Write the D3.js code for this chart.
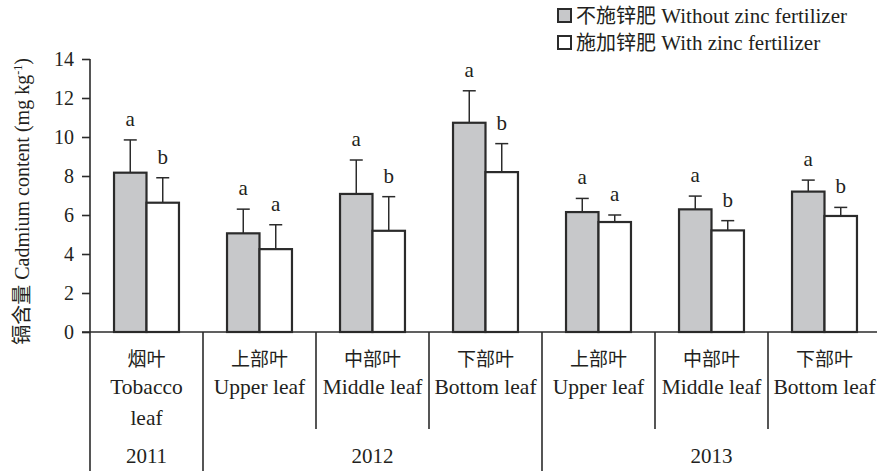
<!DOCTYPE html>
<html>
<head>
<meta charset="utf-8">
<script src="https://cdn.jsdelivr.net/npm/d3@7/dist/d3.min.js"></script>
<style>
  html, body { margin: 0; padding: 0; background: #fff; }
  svg { display: block; }
  text { font-family: "Liberation Serif", "Noto Sans CJK SC", serif; fill: #231f20; }
</style>
</head>
<body>
<svg id="chart" width="877" height="471"></svg>
<script>
// Leaf position labels (Chinese / English) and the year each belongs to
const categoriesZh = ["烟叶", "上部叶", "中部叶", "下部叶", "上部叶", "中部叶", "下部叶"];
const categoriesEn = ["Tobacco\nleaf", "Upper leaf", "Middle leaf", "Bottom leaf", "Upper leaf", "Middle leaf", "Bottom leaf"];
const years = ["2011", "2012", "2013"];
const yearSpans = [1, 3, 3];

// Cadmium content (mg kg-1): means and standard errors
const withoutZinc = [8.17, 5.06, 7.08, 10.73, 6.15, 6.29, 7.20];
const withoutZincErr = [1.68, 1.24, 1.74, 1.64, 0.70, 0.68, 0.59];
const withZinc = [6.63, 4.25, 5.19, 8.20, 5.64, 5.21, 5.95];
const withZincErr = [1.28, 1.25, 1.75, 1.46, 0.36, 0.50, 0.44];

// Significance letters
const lettersWithout = ["a", "a", "a", "a", "a", "a", "a"];
const lettersWith = ["b", "a", "b", "b", "a", "b", "b"];

const seriesNames = ["不施锌肥 Without zinc fertilizer", "施加锌肥 With zinc fertilizer"];
const yTicks = [0, 2, 4, 6, 8, 10, 12, 14];

const svg = d3.select("#chart");
const ink = "#2b2b2b";
const grayFill = "#c7c8ca";

const plot = { left: 90, right: 881, top: 59, bottom: 332 };

const x = d3.scaleBand()
  .domain(d3.range(categoriesZh.length))
  .range([plot.left, plot.right])
  .padding(0);

const xInner = d3.scaleBand()
  .domain([0, 1])
  .range([0, x.bandwidth()])
  .paddingInner(0)
  .paddingOuter(0.74);

const y = d3.scaleLinear().domain([0, 14]).range([plot.bottom, plot.top]);

// Y axis
const yAxis = d3.axisLeft(y).tickValues(yTicks).tickSize(8).tickPadding(8).tickSizeOuter(0);
const yG = svg.append("g").attr("transform", `translate(${plot.left},0)`).call(yAxis);
yG.attr("font-family", null);
yG.select(".domain").remove();
yG.selectAll(".tick line").attr("stroke", ink).attr("stroke-width", 1.6);
yG.selectAll(".tick text").attr("font-size", 20).attr("fill", "#231f20");

// Y axis line, continuing down as the left border of the category table
svg.append("line")
  .attr("x1", plot.left).attr("x2", plot.left)
  .attr("y1", y(14)).attr("y2", 471)
  .attr("stroke", ink).attr("stroke-width", 1.6);

// Y axis title
svg.append("text")
  .attr("transform", `translate(29,${(plot.top + plot.bottom) / 2 + 6}) rotate(-90)`)
  .attr("text-anchor", "middle")
  .attr("font-size", 20)
  .html('镉含量 Cadmium content (mg kg<tspan dy="-7" font-size="12">-1</tspan><tspan dy="7">)</tspan>');

// Bars
const series = [
  { values: withoutZinc, errs: withoutZincErr, letters: lettersWithout, fill: grayFill },
  { values: withZinc, errs: withZincErr, letters: lettersWith, fill: "#ffffff" }
];

series.forEach((s, si) => {
  const g = svg.append("g");
  const data = s.values.map((v, i) => ({ i, v, e: s.errs[i], l: s.letters[i] }));
  const bx = d => x(d.i) + xInner(si);
  const cx = d => bx(d) + xInner.bandwidth() / 2;

  // error bars (upper half only)
  g.selectAll(".err").data(data).join("line")
    .attr("x1", cx).attr("x2", cx)
    .attr("y1", d => y(d.v)).attr("y2", d => y(d.v + d.e))
    .attr("stroke", ink).attr("stroke-width", 1.5);
  g.selectAll(".cap").data(data).join("line")
    .attr("x1", d => cx(d) - 6.5).attr("x2", d => cx(d) + 6.5)
    .attr("y1", d => y(d.v + d.e)).attr("y2", d => y(d.v + d.e))
    .attr("stroke", ink).attr("stroke-width", 1.5);

  g.selectAll("rect").data(data).join("rect")
    .attr("x", bx)
    .attr("y", d => y(d.v))
    .attr("width", xInner.bandwidth())
    .attr("height", d => y(0) - y(d.v))
    .attr("fill", s.fill)
    .attr("stroke", ink)
    .attr("stroke-width", 2.2);

  g.selectAll("text").data(data).join("text")
    .attr("x", cx)
    .attr("y", d => y(d.v + d.e) - 14)
    .attr("text-anchor", "middle")
    .attr("font-size", 21)
    .text(d => d.l);
});

// X axis baseline
svg.append("line")
  .attr("x1", plot.left - 8).attr("x2", 877)
  .attr("y1", y(0)).attr("y2", y(0))
  .attr("stroke", ink).attr("stroke-width", 1.6);

// Category separators: long ones between years, short ones within a year
const yearStarts = [];
let acc = 0;
yearSpans.forEach(n => { yearStarts.push(acc); acc += n; });
d3.range(1, categoriesZh.length).forEach(i => {
  const isYear = yearStarts.includes(i);
  svg.append("line")
    .attr("x1", x(i)).attr("x2", x(i))
    .attr("y1", y(0)).attr("y2", isYear ? 471 : 429)
    .attr("stroke", ink).attr("stroke-width", 1.6);
});

// Category labels
categoriesZh.forEach((zh, i) => {
  const cx = x(i) + x.bandwidth() / 2;
  svg.append("text")
    .attr("x", cx).attr("y", 366)
    .attr("text-anchor", "middle")
    .attr("font-size", 19)
    .style("font-family", "Noto Sans CJK SC")
    .text(zh);
  categoriesEn[i].split("\n").forEach((line, k) => {
    svg.append("text")
      .attr("x", cx).attr("y", 394 + k * 31)
      .attr("text-anchor", "middle")
      .attr("font-size", 21.5)
      .text(line);
  });
});

// Year labels centred under their categories
years.forEach((yr, k) => {
  const start = yearStarts[k];
  const end = start + yearSpans[k];
  const cx = (x(start) + x(end - 1) + x.bandwidth()) / 2;
  svg.append("text")
    .attr("x", cx).attr("y", 463)
    .attr("text-anchor", "middle")
    .attr("font-size", 21)
    .text(yr);
});

// Legend
const legend = svg.append("g");
series.forEach((s, si) => {
  const ly = 9 + si * 27;
  legend.append("rect")
    .attr("x", 558).attr("y", ly)
    .attr("width", 13).attr("height", 13)
    .attr("fill", s.fill)
    .attr("stroke", ink).attr("stroke-width", 2);
  const parts = seriesNames[si].split(" ");
  const t = legend.append("text")
    .attr("x", 576).attr("y", ly + 14)
    .attr("font-size", 20);
  t.append("tspan").style("font-family", "Noto Sans CJK SC").text(parts[0]);
  t.append("tspan").attr("font-size", 21).text(" " + parts.slice(1).join(" "));
});
</script>
</body>
</html>
